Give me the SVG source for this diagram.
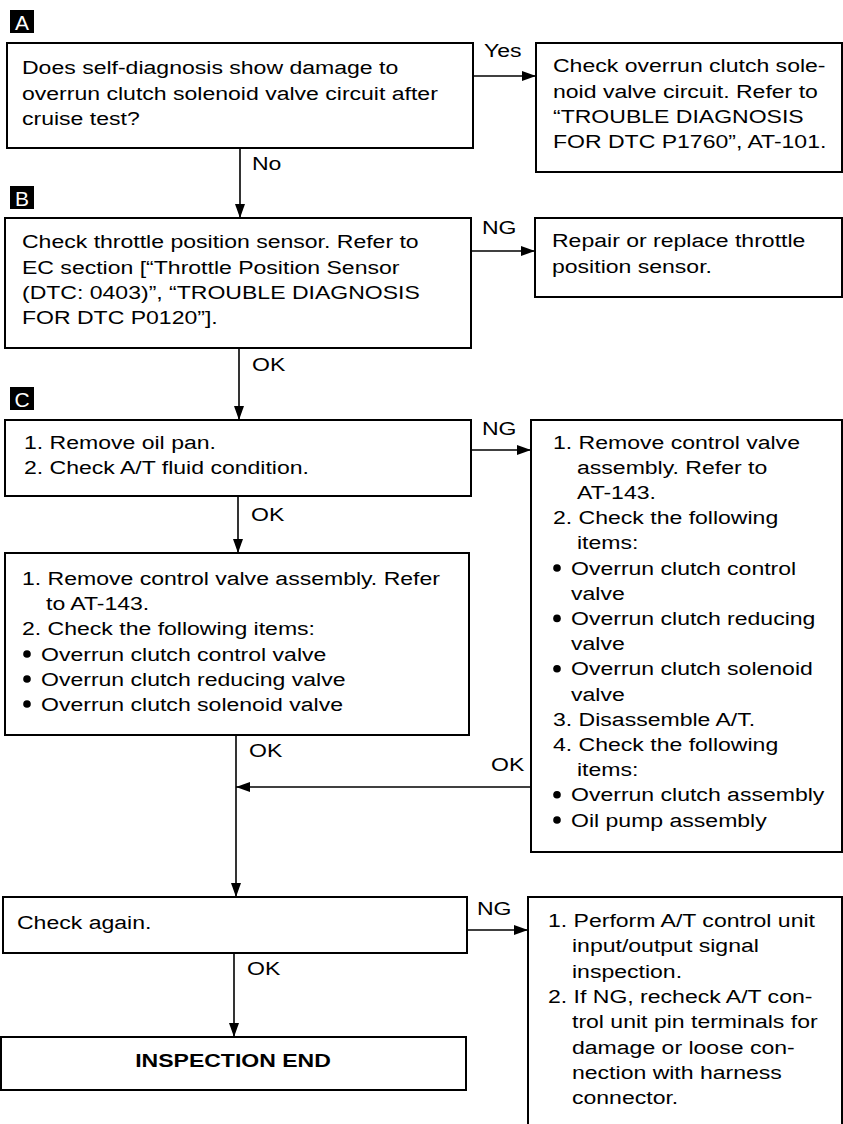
<svg xmlns="http://www.w3.org/2000/svg" width="843" height="1124" viewBox="0 0 843 1124">
<style>
.t{font-family:"Liberation Sans",Arial,Helvetica,sans-serif;font-size:18px;fill:#000}
.b{font-weight:bold}
.m{text-anchor:middle}
.box{fill:#fff;stroke:#000;stroke-width:2}
.ln{stroke:#000;stroke-width:1.6;fill:none}
.tag{fill:#000}
.tagt{font-family:"Liberation Sans",Arial,sans-serif;font-size:21px;fill:#fff;text-anchor:middle}
</style>
<defs>
<marker id="ah" viewBox="0 0 14 10" refX="14" refY="5" markerWidth="14" markerHeight="10" markerUnits="userSpaceOnUse" orient="auto">
<path d="M0,0 L14,5 L0,10 z" fill="#000"/>
</marker>
</defs>
<rect width="843" height="1124" fill="#fff"/>

<g id="tags">
<rect class="tag" x="10" y="10" width="24" height="23"/><text class="tagt" x="22" y="30">A</text>
<rect class="tag" x="10" y="186" width="24" height="23"/><text class="tagt" x="22" y="206">B</text>
<rect class="tag" x="10" y="387" width="24" height="23"/><text class="tagt" x="22" y="407">C</text>
</g>

<g id="connectors">
<line class="ln" x1="473" y1="76" x2="536" y2="76" marker-end="url(#ah)"/>
<line class="ln" x1="240" y1="148" x2="240" y2="218" marker-end="url(#ah)"/>
<line class="ln" x1="471" y1="251" x2="535" y2="251" marker-end="url(#ah)"/>
<line class="ln" x1="239" y1="348" x2="239" y2="420" marker-end="url(#ah)"/>
<line class="ln" x1="471" y1="450" x2="531" y2="450" marker-end="url(#ah)"/>
<line class="ln" x1="238" y1="496" x2="238" y2="553" marker-end="url(#ah)"/>
<line class="ln" x1="236" y1="735" x2="236" y2="897" marker-end="url(#ah)"/>
<line class="ln" x1="531" y1="787" x2="236" y2="787" marker-end="url(#ah)"/>
<line class="ln" x1="467" y1="930" x2="528" y2="930" marker-end="url(#ah)"/>
<line class="ln" x1="234" y1="953" x2="234" y2="1037" marker-end="url(#ah)"/>
<text class="t" transform="translate(484,57) scale(1.28,1)">Yes</text>
<text class="t" transform="translate(252,170) scale(1.28,1)">No</text>
<text class="t" transform="translate(482,234) scale(1.28,1)">NG</text>
<text class="t" transform="translate(252,371) scale(1.28,1)">OK</text>
<text class="t" transform="translate(482,435) scale(1.28,1)">NG</text>
<text class="t" transform="translate(251,521) scale(1.28,1)">OK</text>
<text class="t" transform="translate(249,757) scale(1.28,1)">OK</text>
<text class="t" transform="translate(491,771) scale(1.28,1)">OK</text>
<text class="t" transform="translate(477,915) scale(1.28,1)">NG</text>
<text class="t" transform="translate(247,975) scale(1.28,1)">OK</text>
</g>

<g id="nodeA">
<rect class="box" x="7" y="43" width="466" height="105"/>
<text class="t" transform="translate(22,74) scale(1.28,1)">Does self-diagnosis show damage to</text>
<text class="t" transform="translate(22,99.5) scale(1.28,1)">overrun clutch solenoid valve circuit after</text>
<text class="t" transform="translate(22,125) scale(1.28,1)">cruise test?</text>
</g>

<g id="nodeA-yes">
<rect class="box" x="536" y="43" width="306" height="129"/>
<text class="t" transform="translate(553,72) scale(1.28,1)">Check overrun clutch sole-</text>
<text class="t" transform="translate(553,97.5) scale(1.28,1)">noid valve circuit. Refer to</text>
<text class="t" transform="translate(553,123) scale(1.28,1)">“TROUBLE DIAGNOSIS</text>
<text class="t" transform="translate(553,148) scale(1.28,1)">FOR DTC P1760”, AT-101.</text>
</g>

<g id="nodeB">
<rect class="box" x="5" y="218" width="466" height="130"/>
<text class="t" transform="translate(22,248) scale(1.28,1)">Check throttle position sensor. Refer to</text>
<text class="t" transform="translate(22,274) scale(1.28,1)">EC section [“Throttle Position Sensor</text>
<text class="t" transform="translate(22,299) scale(1.28,1)">(DTC: 0403)”, “TROUBLE DIAGNOSIS</text>
<text class="t" transform="translate(22,324) scale(1.28,1)">FOR DTC P0120”].</text>
</g>

<g id="nodeB-ng">
<rect class="box" x="535" y="218" width="307" height="79"/>
<text class="t" transform="translate(552,247) scale(1.28,1)">Repair or replace throttle</text>
<text class="t" transform="translate(552,273) scale(1.28,1)">position sensor.</text>
</g>

<g id="nodeC1">
<rect class="box" x="5" y="420" width="466" height="76"/>
<text class="t" transform="translate(24,449) scale(1.28,1)">1. Remove oil pan.</text>
<text class="t" transform="translate(24,474) scale(1.28,1)">2. Check A/T fluid condition.</text>
</g>

<g id="nodeC1-ng">
<rect class="box" x="531" y="420" width="311" height="432"/>
<text class="t" transform="translate(553,448.5) scale(1.28,1)">1. Remove control valve</text>
<text class="t" transform="translate(577,473.7) scale(1.28,1)">assembly. Refer to</text>
<text class="t" transform="translate(577,498.9) scale(1.28,1)">AT-143.</text>
<text class="t" transform="translate(553,524.1) scale(1.28,1)">2. Check the following</text>
<text class="t" transform="translate(577,549.3) scale(1.28,1)">items:</text>
<circle cx="557" cy="568" r="3.8"/>
<text class="t" transform="translate(571,574.5) scale(1.28,1)">Overrun clutch control</text>
<text class="t" transform="translate(571,599.7) scale(1.28,1)">valve</text>
<circle cx="557" cy="618.4" r="3.8"/>
<text class="t" transform="translate(571,624.9) scale(1.28,1)">Overrun clutch reducing</text>
<text class="t" transform="translate(571,650.1) scale(1.28,1)">valve</text>
<circle cx="557" cy="668.8" r="3.8"/>
<text class="t" transform="translate(571,675.3) scale(1.28,1)">Overrun clutch solenoid</text>
<text class="t" transform="translate(571,700.5) scale(1.28,1)">valve</text>
<text class="t" transform="translate(553,725.7) scale(1.28,1)">3. Disassemble A/T.</text>
<text class="t" transform="translate(553,750.9) scale(1.28,1)">4. Check the following</text>
<text class="t" transform="translate(577,776.1) scale(1.28,1)">items:</text>
<circle cx="557" cy="794.8" r="3.8"/>
<text class="t" transform="translate(571,801.3) scale(1.28,1)">Overrun clutch assembly</text>
<circle cx="557" cy="820" r="3.8"/>
<text class="t" transform="translate(571,826.5) scale(1.28,1)">Oil pump assembly</text>
</g>

<g id="nodeC2">
<rect class="box" x="5" y="553" width="464" height="182"/>
<text class="t" transform="translate(22,584.5) scale(1.28,1)">1. Remove control valve assembly. Refer</text>
<text class="t" transform="translate(46,610) scale(1.28,1)">to AT-143.</text>
<text class="t" transform="translate(22,635) scale(1.28,1)">2. Check the following items:</text>
<circle cx="27" cy="654" r="3.8"/>
<text class="t" transform="translate(41,660.5) scale(1.28,1)">Overrun clutch control valve</text>
<circle cx="27" cy="679" r="3.8"/>
<text class="t" transform="translate(41,685.5) scale(1.28,1)">Overrun clutch reducing valve</text>
<circle cx="27" cy="704" r="3.8"/>
<text class="t" transform="translate(41,710.5) scale(1.28,1)">Overrun clutch solenoid valve</text>
</g>

<g id="nodeCheck">
<rect class="box" x="3" y="897" width="464" height="56"/>
<text class="t" transform="translate(17,929) scale(1.28,1)">Check again.</text>
</g>

<g id="nodeCheck-ng">
<rect class="box" x="528" y="897" width="314" height="240"/>
<text class="t" transform="translate(548,926.5) scale(1.28,1)">1. Perform A/T control unit</text>
<text class="t" transform="translate(572,952) scale(1.28,1)">input/output signal</text>
<text class="t" transform="translate(572,977.5) scale(1.28,1)">inspection.</text>
<text class="t" transform="translate(548,1002.5) scale(1.28,1)">2. If NG, recheck A/T con-</text>
<text class="t" transform="translate(572,1028) scale(1.28,1)">trol unit pin terminals for</text>
<text class="t" transform="translate(572,1053.5) scale(1.28,1)">damage or loose con-</text>
<text class="t" transform="translate(572,1078.5) scale(1.28,1)">nection with harness</text>
<text class="t" transform="translate(572,1104) scale(1.28,1)">connector.</text>
</g>

<g id="nodeEnd">
<rect class="box" x="1" y="1037" width="465" height="53"/>
<text class="t b m" transform="translate(233,1067) scale(1.28,1)">INSPECTION END</text>
</g>
</svg>
